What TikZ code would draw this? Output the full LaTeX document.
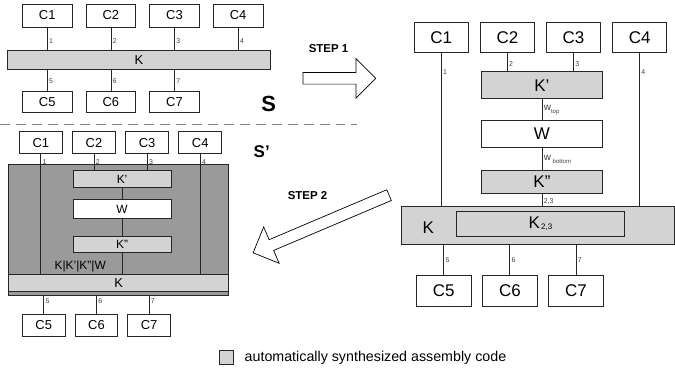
\documentclass[tikz,border=0pt]{standalone}
\usepackage{fontspec}
\setmainfont{Liberation Sans}
\usetikzlibrary{shapes,arrows,positioning}

\definecolor{lgray}{HTML}{D3D3D3}
\definecolor{dgray}{HTML}{9A9A9A}

\begin{document}
\begin{tikzpicture}[%
    x=1pt, y=-1pt,              % Work in pixels, top to bottom
    node distance=13pt,         % Gap between component boxes
    ]
% -------------------------------------------------
% Box, connector and label styles
\tikzset{
  base/.style={draw=black!85, line width=0.8pt, inner sep=0pt, align=center},
  cbox/.style={base, minimum width=50pt, minimum height=23pt, font=\fontsize{13}{15}\selectfont},
  rcbox/.style={base, minimum width=54pt, minimum height=31pt, font=\fontsize{17}{19}\selectfont},
  lcbox/.style={base, minimum width=43pt, minimum height=22pt, font=\fontsize{13}{15}\selectfont},
  kbar/.style={base, fill=lgray},
  wbox/.style={base, fill=white},
  conn/.style={draw=black!85, line width=0.8pt},
  num/.style={anchor=west, inner sep=1.5pt, font=\fontsize{7}{8}\selectfont, text=black!75},
  bigarrow/.style={single arrow, draw=black, line width=0.7pt, fill=white,
    inner xsep=0pt, inner ysep=5.5pt, single arrow head extend=14pt},
  steplbl/.style={font=\fontsize{11.5}{13}\bfseries\selectfont},
  syslbl/.style={font=\bfseries}
}
% -------------------------------------------------
% System S, before the steps
\node [cbox] (c1) at (47,15.5) {C1};
\node [cbox, right=of c1] (c2) {C2};
\node [cbox, right=of c2] (c3) {C3};
\node [cbox, right=of c3] (c4) {C4};
\node [kbar, minimum width=264pt, minimum height=19pt, font=\fontsize{13}{15}\selectfont] (k) at (139,60.5) {K};
\node [cbox, minimum height=21pt] (c5) at (47,102.5) {C5};
\node [cbox, minimum height=21pt, right=of c5] (c6) {C6};
\node [cbox, minimum height=21pt, right=of c6] (c7) {C7};
\node [syslbl, font=\fontsize{22}{24}\bfseries\selectfont] (s) at (269,104) {S};

\draw[conn] (c1) -- (c1 |- k.north) node[num, pos=0.6] {1};
\draw[conn] (c2) -- (c2 |- k.north) node[num, pos=0.6] {2};
\draw[conn] (c3) -- (c3 |- k.north) node[num, pos=0.6] {3};
\draw[conn] (c4) -- (c4 |- k.north) node[num, pos=0.6] {4};
\draw[conn] (c5 |- k.south) -- (c5) node[num, pos=0.5] {5};
\draw[conn] (c6 |- k.south) -- (c6) node[num, pos=0.5] {6};
\draw[conn] (c7 |- k.south) -- (c7) node[num, pos=0.5] {7};

\draw[gray, line width=0.8pt, dash pattern=on 10pt off 6pt] (0,125) -- (358,125);

% -------------------------------------------------
% STEP 1: K is split up
\node [steplbl] (st1) at (329,49) {STEP 1};
\node [bigarrow, minimum height=73pt, anchor=tail] (a1) at (303,78.5) {};

\node [rcbox] (rc1) at (442,37.5) {C1};
\node [rcbox, right=11.5pt of rc1] (rc2) {C2};
\node [rcbox, right=11.5pt of rc2] (rc3) {C3};
\node [rcbox, right=11.5pt of rc3] (rc4) {C4};
\node [kbar, minimum width=122pt, minimum height=27pt, font=\fontsize{17}{19}\selectfont] (rkp) at (543,85.5) {K'};
\node [wbox, minimum width=122pt, minimum height=27pt, font=\fontsize{17}{19}\selectfont] (rw) at (543,134.5) {W};
\node [kbar, minimum width=122pt, minimum height=23pt, font=\fontsize{17}{19}\selectfont] (rkpp) at (543,182.5) {K''};
\node [kbar, minimum width=274pt, minimum height=38pt] (rk) at (539,226) {};
\node [font=\fontsize{17}{19}\selectfont] (rklbl) at (429,228) {K};
\node [kbar, minimum width=169pt, minimum height=25pt, font=\fontsize{17}{19}\selectfont] (rk23) at (541.5,224.5)
  {K\raisebox{-1.5pt}{\fontsize{8}{9}\selectfont\,2,3}};
\node [rcbox, minimum width=55pt] (rc5) at (444.5,291.5) {C5};
\node [rcbox, minimum width=55pt, right=10.5pt of rc5] (rc6) {C6};
\node [rcbox, minimum width=55pt, right=10.5pt of rc6] (rc7) {C7};

\draw[conn] (rc1) -- (rc1 |- rk.north) node[num, pos=0.12] {1};
\draw[conn] (rc2) -- (rc2 |- rkp.north) node[num, pos=0.6] {2};
\draw[conn] (rc3) -- (rc3 |- rkp.north) node[num, pos=0.6] {3};
\draw[conn] (rc4) -- (rc4 |- rk.north) node[num, pos=0.12] {4};
\draw[conn] (rkp) -- (rw) node[num, pos=0.5, font=\fontsize{10}{11}\selectfont]
  {w\raisebox{-3pt}{\fontsize{6}{7}\selectfont top}};
\draw[conn] (rw) -- (rkpp) node[num, pos=0.5, font=\fontsize{10}{11}\selectfont]
  {w\,\raisebox{-3pt}{\fontsize{6}{7}\selectfont bottom}};
\draw[conn] (rkpp) -- (rkpp |- rk.north) node[num, pos=0.6] {2,3};
\draw[conn] (rc5 |- rk.south) -- (rc5) node[num, pos=0.5] {5};
\draw[conn] (rc6 |- rk.south) -- (rc6) node[num, pos=0.5] {6};
\draw[conn] (rc7 |- rk.south) -- (rc7) node[num, pos=0.5] {7};

% -------------------------------------------------
% STEP 2: everything is merged again into S'
\node [steplbl] (st2) at (308,196) {STEP 2};
\node [bigarrow, minimum height=148pt, rotate=203, anchor=tail] (a2) at (390,195.5) {};

\node [base, fill=dgray, minimum width=221pt, minimum height=131pt] (sg) at (118.5,230.5) {};
\node [kbar, minimum width=221pt, minimum height=17pt, font=\fontsize{13}{15}\selectfont] (sk) at (118.5,283.5) {K};
\node [lcbox] (sc1) at (40.5,143) {C1};
\node [lcbox, right=9.5pt of sc1] (sc2) {C2};
\node [lcbox, right=9.5pt of sc2] (sc3) {C3};
\node [lcbox, right=9.5pt of sc3] (sc4) {C4};
\node [kbar, minimum width=98pt, minimum height=17pt, font=\fontsize{12}{14}\selectfont] (skp) at (122,179.5) {K'};
\node [wbox, minimum width=98pt, minimum height=19pt, font=\fontsize{12}{14}\selectfont] (sw) at (122,209.5) {W};
\node [kbar, minimum width=98pt, minimum height=16pt, font=\fontsize{12}{14}\selectfont] (skpp) at (122,245) {K''};
\node [font=\fontsize{12}{14}\selectfont] (mix) at (80,267) {K|K'|K''|W};
\node [lcbox] (sc5) at (43.5,326) {C5};
\node [lcbox, right=9pt of sc5] (sc6) {C6};
\node [lcbox, right=9pt of sc6] (sc7) {C7};
\node [syslbl, font=\fontsize{17}{19}\bfseries\selectfont] (s2) at (262,152) {S'};

\draw[conn] (sc1) -- (sc1 |- sk.north) node[num, pos=0.07] {1};
\draw[conn] (sc2) -- (sc2 |- skp.north) node[num, pos=0.5] {2};
\draw[conn] (sc3) -- (sc3 |- skp.north) node[num, pos=0.5] {3};
\draw[conn] (sc4) -- (sc4 |- sk.north) node[num, pos=0.07] {4};
\draw[conn] (skp) -- (sw);
\draw[conn] (sw) -- (skpp);
\draw[conn] (skpp) -- (skpp |- sk.north);
\draw[conn] (sc5 |- sg.south) -- (sc5) node[num, pos=0.3] {5};
\draw[conn] (sc6 |- sg.south) -- (sc6) node[num, pos=0.3] {6};
\draw[conn] (sc7 |- sg.south) -- (sc7) node[num, pos=0.3] {7};

% -------------------------------------------------
% Legend
\node [base, fill=lgray, minimum size=14pt] (key) at (227,358.5) {};
\node [right=7pt of key, font=\fontsize{14.3}{16}\selectfont] (keytxt) {automatically synthesized assembly code};

\useasboundingbox (0,0) rectangle (675,376);
\end{tikzpicture}
\end{document}
